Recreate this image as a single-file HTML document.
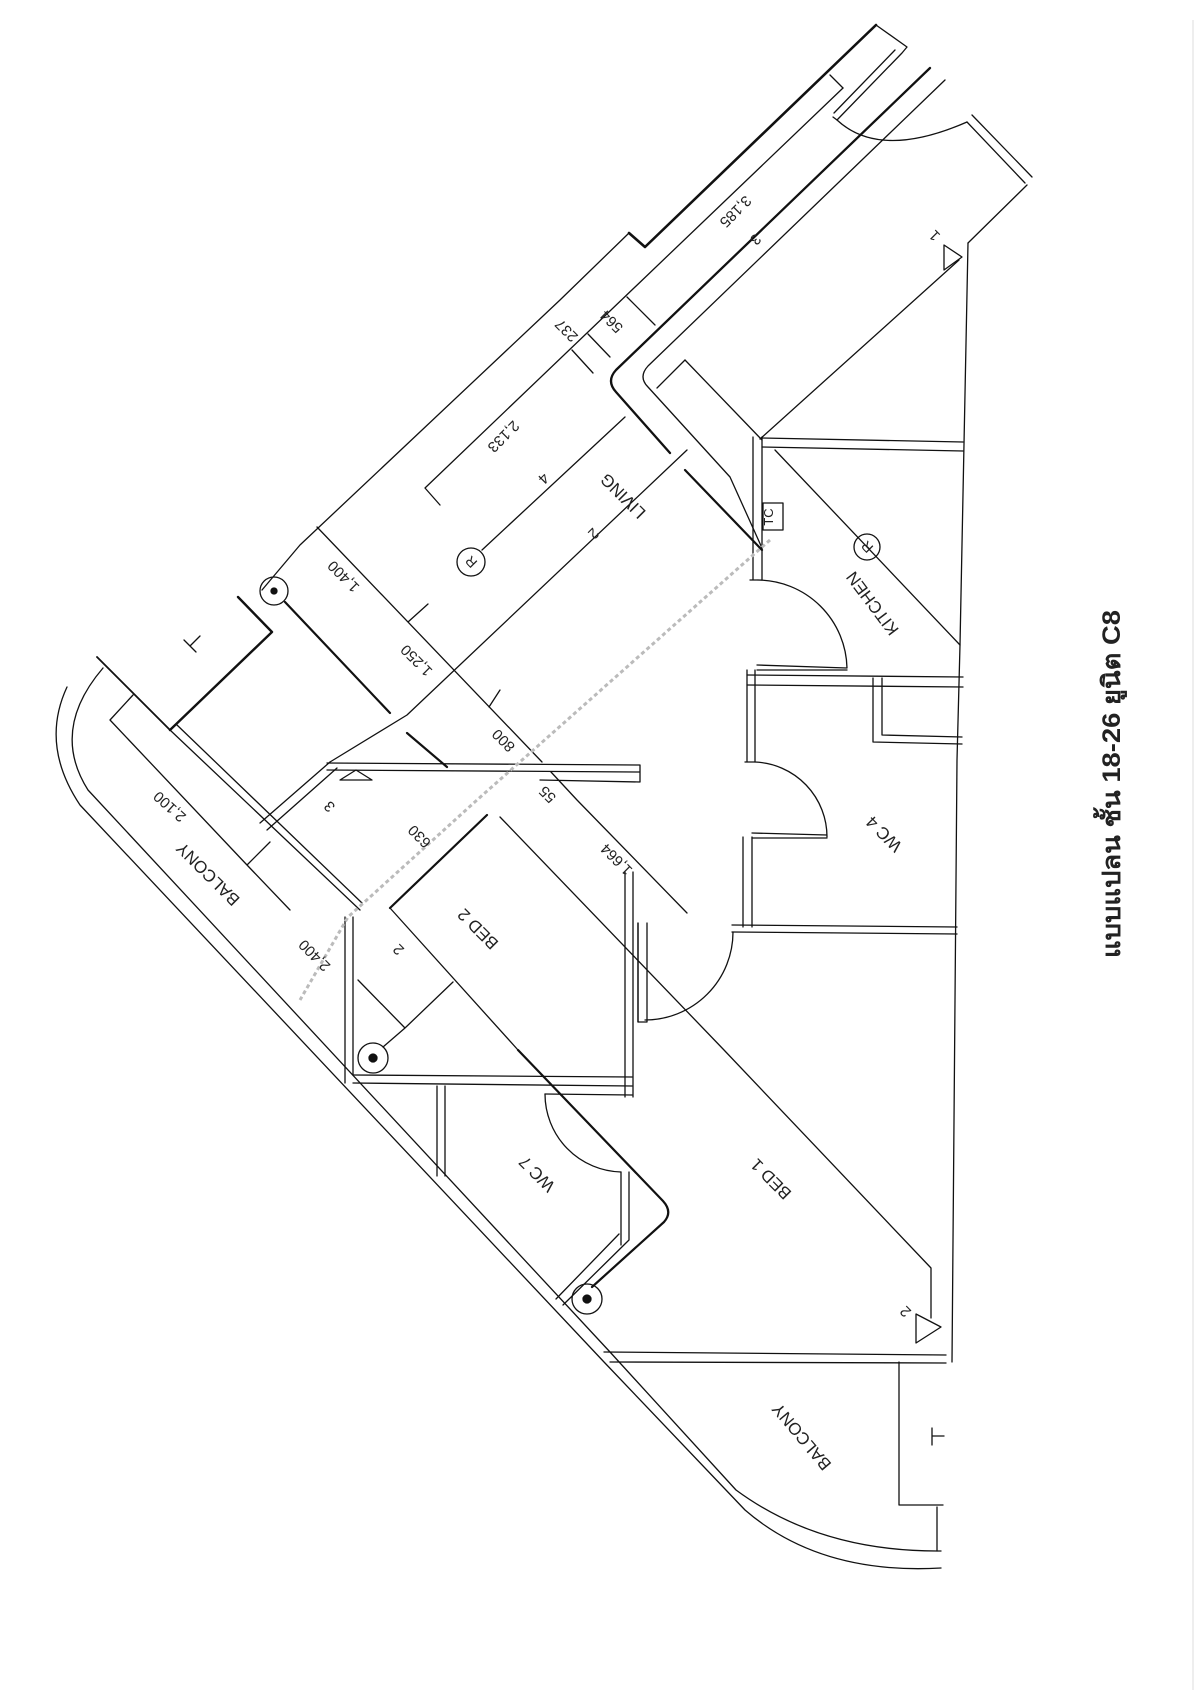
<!DOCTYPE html>
<html><head><meta charset="utf-8"><style>
html,body{margin:0;padding:0;background:#fff;}
svg{display:block;}
text{font-family:"Liberation Sans","DejaVu Sans",sans-serif;fill:#222;}
</style></head><body>
<svg width="1200" height="1697" viewBox="0 0 1200 1697" xmlns="http://www.w3.org/2000/svg">
<rect width="1200" height="1697" fill="#fff"/>
<line x1="1193" y1="20" x2="1193" y2="1690" stroke="#ddd" stroke-width="1"/>
<g fill="none" stroke="#111" stroke-width="1.3" stroke-linecap="round" stroke-linejoin="round">
<path d="M876,25 L645,247 L629,233" stroke-width="2.6"/>
<path d="M629,233 L560,300 L300,545 L262,590"/>
<path d="M876,25 L907,47 L902,53 L837,120 L833,117"/>
<path d="M895,50 L834,113"/>
<path d="M837,120 Q880,160 967,122"/>
<path d="M972,115 L1032,177 M967,122 L1025,183 M1027,185 L968,243"/>
<path d="M930,68 L616,370 Q606,381 616,392 L670,453" stroke-width="2.3"/>
<path d="M945,80 L648,366 Q638,377 648,387 L730,477 L762,548"/>
<path d="M843,88 L425,488 M440,505 L425,488"/>
<path d="M843,88 L830,75 M588,334 L610,357 M572,350 L593,373 M627,297 L655,325"/>
<path d="M685,360 L762,440 M685,360 L657,388"/>
<path d="M968,243 L960,645 L957,760 L952,1362"/>
<path d="M944,245 L944,270 L962,257 Z"/>
<path d="M959,260 L760,439"/>
<path d="M753,437 L753,580 M762,437 L762,580 M750,580 L758,580"/>
<path d="M762,438 L963,442 M762,447 L963,451"/>
<rect x="763" y="503" width="20" height="27"/>
<path d="M775,450 L960,645"/>
<circle cx="867" cy="547" r="13"/>
<path d="M758,580 A90,90 0 0 1 847,668 M757,665 L847,668 M757,670 L847,670"/>
<path d="M747,675 L963,677 M747,685 L963,687"/>
<path d="M747,670 L747,762 M755,670 L755,762 M745,762 L755,762"/>
<path d="M873,678 L873,742 M882,678 L882,735 M873,742 L962,744 M882,735 L962,737"/>
<path d="M755,762 A75,75 0 0 1 827,837 M752,833 L827,835 M752,838 L827,838"/>
<path d="M743,837 L743,927 M752,837 L752,927"/>
<path d="M732,925 L957,927 M732,932 L957,934"/>
<path d="M733,932 A88,88 0 0 1 645,1020"/>
<path d="M638,923 L638,1022 M647,923 L647,1022 M638,1022 L647,1022"/>
<path d="M625,417 L482,550"/>
<circle cx="471" cy="562" r="14"/>
<path d="M687,450 L407,715 L330,762"/>
<path d="M317,527 L542,762 M408,622 L428,604 M489,707 L500,690"/>
<path d="M285,602 L390,713" stroke-width="2.2"/>
<path d="M407,733 L447,767" stroke-width="2.2"/>
<path d="M685,470 L762,550" stroke-width="2.2"/>
<circle cx="274" cy="591" r="14"/>
<circle cx="274" cy="591" r="3" fill="#111"/>
<path d="M238,597 L272,632 L170,730" stroke-width="2.4"/>
<path d="M97,657 L170,730" stroke-width="1.8"/>
<path d="M170,730 L360,910 M177,725 L362,903"/>
<path d="M184,640 L196,652 M190,646 L200,636"/>
<path d="M67,687 Q40,745 80,805 L604,1362 L745,1510 Q820,1575 941,1568"/>
<path d="M103,668 Q50,730 88,790 L610,1352 L736,1490 Q820,1552 941,1551"/>
<path d="M133,695 L110,720 L247,865 L290,910 M247,865 L270,842"/>
<path d="M260,823 L330,762 M267,830 L337,768"/>
<path d="M327,763 L640,765 L640,782 L540,780 M327,770 L640,772"/>
<path d="M340,780 L356,770 L372,780 Z"/>
<path d="M390,908 L487,815" stroke-width="2.2"/>
<path d="M390,908 L518,1050"/>
<path d="M625,872 L625,1097 M633,872 L633,1097 M638,923 L638,1022"/>
<path d="M353,1075 L632,1077 M353,1083 L632,1086 M545,1094 L632,1095"/>
<path d="M345,917 L345,1083 M353,917 L353,1075"/>
<circle cx="373" cy="1058" r="15"/>
<circle cx="373" cy="1058" r="4" fill="#111"/>
<path d="M383,1047 L405,1028 L453,982 M358,980 L405,1028"/>
<path d="M687,913 L577,800 L551,772"/>
<path d="M931,1318 L931,1268 L724,1050 L500,817"/>
<path d="M916,1314 L916,1343 L941,1327 Z"/>
<path d="M518,1050 L663,1201 Q673,1212 664,1222 L592,1287" stroke-width="2.2"/>
<circle cx="587" cy="1299" r="15"/>
<circle cx="587" cy="1299" r="4" fill="#111"/>
<path d="M621,1172 L621,1245 M629,1172 L629,1240 M619,1234 L556,1299 M629,1240 L563,1305"/>
<path d="M545,1094 A78,78 0 0 0 621,1172"/>
<path d="M437,1086 L437,1176 M445,1086 L445,1176"/>
<path d="M604,1352 L946,1355 M610,1362 L946,1363"/>
<path d="M899,1362 L899,1505 L943,1505 M937,1507 L937,1551"/>
<path d="M932,1428 L932,1445 M932,1436 L944,1436"/>
</g>
<path d="M770,540 L477,800 L348,917 L300,1000" stroke="#bbb" stroke-width="3" fill="none" stroke-dasharray="4,3"/>
<g font-size="15">
<text transform="translate(732,208) rotate(135)" text-anchor="middle">3,185</text>
<text transform="translate(752,236) rotate(135)" text-anchor="middle">3</text>
<text transform="translate(615,318) rotate(225)" text-anchor="middle">564</text>
<text transform="translate(570,327) rotate(225)" text-anchor="middle">237</text>
<text transform="translate(500,433) rotate(135)" text-anchor="middle">2,133</text>
<text transform="translate(540,475) rotate(135)" text-anchor="middle">4</text>
<text transform="translate(590,530) rotate(135)" text-anchor="middle">2</text>
<text transform="translate(347,573) rotate(225)" text-anchor="middle">1,400</text>
<text transform="translate(420,657) rotate(225)" text-anchor="middle">1,250</text>
<text transform="translate(507,737) rotate(225)" text-anchor="middle">800</text>
<text transform="translate(551,791) rotate(225)" text-anchor="middle">55</text>
<text transform="translate(620,856) rotate(225)" text-anchor="middle">1,664</text>
<text transform="translate(173,803) rotate(222)" text-anchor="middle">2,100</text>
<text transform="translate(318,952) rotate(225)" text-anchor="middle" fill="#999">2,400</text>
<text transform="translate(423,833) rotate(225)" text-anchor="middle" fill="#999">630</text>
<text transform="translate(402,946) rotate(225)" text-anchor="middle">2</text>
<text transform="translate(333,803) rotate(225)" text-anchor="middle">3</text>
<text transform="translate(909,1308) rotate(225)" text-anchor="middle">2</text>
<text transform="translate(938,232) rotate(225)" text-anchor="middle">1</text>
<text transform="translate(773,517) rotate(-90)" text-anchor="middle" font-size="13">TC</text>
<text transform="translate(471,562) rotate(225)" text-anchor="middle" dominant-baseline="central" font-size="14">R</text>
<text transform="translate(867,547) rotate(225)" text-anchor="middle" dominant-baseline="central" font-size="14">R</text>
</g>
<g font-size="17">
<text transform="translate(627,492) rotate(225)" text-anchor="middle">LIVING</text>
<text transform="translate(877,600) rotate(233)" text-anchor="middle">KITCHEN</text>
<text transform="translate(888,830) rotate(225)" text-anchor="middle">WC 4</text>
<text transform="translate(482,925) rotate(225)" text-anchor="middle">BED 2</text>
<text transform="translate(212,870) rotate(225)" text-anchor="middle">BALCONY</text>
<text transform="translate(541,1170) rotate(225)" text-anchor="middle">WC 7</text>
<text transform="translate(775,1175) rotate(225)" text-anchor="middle">BED 1</text>
<text transform="translate(806,1433) rotate(230)" text-anchor="middle">BALCONY</text>
</g>
<text transform="translate(1120,784) rotate(-90)" text-anchor="middle" font-size="25" font-weight="bold" textLength="348" lengthAdjust="spacingAndGlyphs">แบบแปลน ชั้น 18-26 ยูนิต C8</text>
</svg>
</body></html>
